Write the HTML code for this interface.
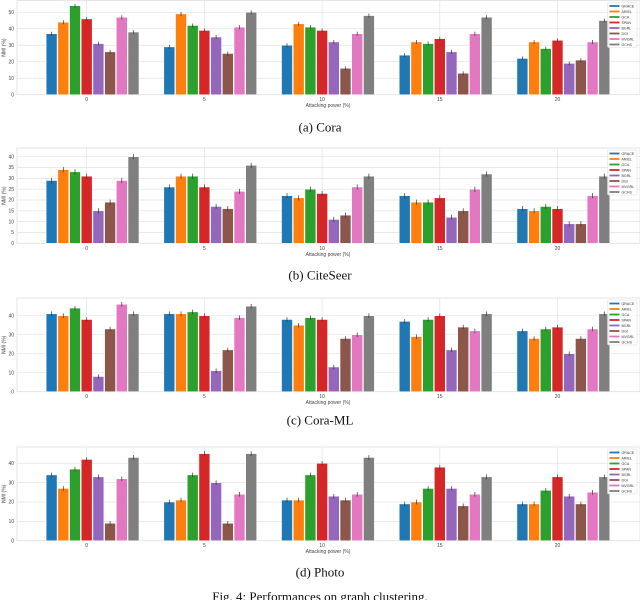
<!DOCTYPE html>
<html><head><meta charset="utf-8">
<style>
html,body{margin:0;padding:0;background:#fff;width:640px;height:600px;overflow:hidden}
svg{display:block}
</style></head>
<body>
<svg id="fig" width="640" height="600" viewBox="0 0 640 600" xmlns="http://www.w3.org/2000/svg"></svg>
<script>
const groups = ["0","5","10","15","20"];
const methods = ["GRACE","ARIEL","GCA","SPAN","BGRL","DGI","MVGRL","GCHS"];
const colors = ["#1f77b4","#ff7f0e","#2ca02c","#d62728","#9467bd","#8c564b","#e377c2","#7f7f7f"];
const coraValues = [[37,44,54,46,31,26,47,38],[29,49,42,39,35,25,41,50],[30,43,41,39,32,16,37,48],[24,32,31,34,26,13,37,47],[22,32,28,33,19,21,32,45]];
const citeseerValues = [[29,34,33,31,15,19,29,40],[26,31,31,26,17,16,24,36],[22,21,25,23,11,13,26,31],[22,19,19,21,12,15,25,32],[16,15,17,16,9,9,22,31]];
const coramlValues = [[41,40,44,38,8,33,46,41],[41,41,42,40,11,22,39,45],[38,35,39,38,13,28,30,40],[37,29,38,40,22,34,32,41],[32,28,33,34,20,28,33,41]];
const photoValues = [[34,27,37,42,33,9,32,43],[20,21,34,45,30,9,24,45],[21,21,34,40,23,21,24,43],[19,20,27,38,27,18,24,33],[19,19,26,33,23,19,25,33]];
const coraTicks = [0,10,20,30,40,50];
const citeseerTicks = [0,5,10,15,20,25,30,35,40];
const coramlTicks = [0,10,20,30,40];
const photoTicks = [0,10,20,30,40];
const errBar = 1.2;

const NS = "http://www.w3.org/2000/svg";
const svg = document.getElementById('fig');
function mk(tag, attrs, parent){const e=document.createElementNS(NS,tag);for(const k in attrs)e.setAttribute(k,attrs[k]);(parent||svg).appendChild(e);return e;}

function panel(key, values, ticks, top, bottom, y0val, yTopVal, yTopPix, caption, capY){
  const g = mk('g',{});
  
  
  const left=17, right=640;
  const yScale = v => bottom - (v - y0val) * (bottom - yTopPix) / (yTopVal - y0val);
  const xTick = i => 86.7 + i*117.7;
  const pitch = 11.7, bw = 10.9;
  // grid
  ticks.forEach(t=>{
    const y=yScale(t);
    const l=mk('line',{x1:left,x2:right,y1:y,y2:y,stroke:'#e2e2e2','stroke-width':0.7},g);
    
    
    const tx=mk('text',{x:14,y:y+1.7,'font-size':5,'text-anchor':'end',fill:'#444','font-family':'Liberation Sans, sans-serif'},g);
    tx.textContent=t;
    
    
  });
  groups.forEach((lab,i)=>{
    const x=xTick(i);
    const l=mk('line',{x1:x,x2:x,y1:top,y2:bottom,stroke:'#e2e2e2','stroke-width':0.7},g);
    
    
    const tx=mk('text',{x:x,y:bottom+6.5,'font-size':5,'text-anchor':'middle',fill:'#444','font-family':'Liberation Sans, sans-serif'},g);
    tx.textContent=lab;
    
    
  });
  const fr=mk('rect',{x:left,y:top,width:right-left,height:bottom-top,fill:'none',stroke:'#e0e0e0','stroke-width':0.8},g);
  
  
  // bars
  values.forEach((row,i)=>{
    row.forEach((v,j)=>{
      const cx=xTick(i)+(j-3)*pitch;
      const y=yScale(v);
      const r=mk('rect',{x:cx-bw/2,y:y,width:bw,height:bottom-y,fill:colors[j],stroke:'#fff','stroke-width':0.5},g);
      
      
      const e=mk('line',{x1:cx,x2:cx,y1:yScale(v+errBar),y2:yScale(v-errBar),stroke:'#333','stroke-width':0.7},g);
      
      
    });
  });
  // axis labels
  const yl=mk('text',{x:0,y:0,'font-size':5,'text-anchor':'middle',fill:'#444','font-family':'Liberation Sans, sans-serif',transform:`translate(5.5,${(top+bottom)/2}) rotate(-90)`},g);
  yl.textContent='NMI (%)';
  
  
  const xl=mk('text',{x:328,y:bottom+12.5,'font-size':5,'text-anchor':'middle',fill:'#444','font-family':'Liberation Sans, sans-serif'},g);
  xl.textContent='Attacking power (%)';
  
  
  // legend
  const lg=mk('g',{},g);
  
  
  mk('rect',{x:607.5,y:top+2,width:29.5,height:45,fill:'#fff','fill-opacity':0.85,stroke:'#ddd','stroke-width':0.5,rx:1},lg);
  methods.forEach((m,j)=>{
    const y=top+5.5+j*5.5;
    const s=mk('line',{x1:609.5,x2:619.5,y1:y,y2:y,stroke:colors[j],'stroke-width':1.8},lg);
    
    
    const t=mk('text',{x:621.5,y:y+1.3,'font-size':3.6,fill:'#333','font-family':'Liberation Sans, sans-serif'},lg);
    t.textContent=m;
    
    
  });
  const c=mk('text',{x:320,y:capY+4.5,'font-size':13,'text-anchor':'middle',fill:'#111','font-family':'Liberation Serif, serif'});
  c.textContent=caption;
  
  
}
panel('cora', coraValues, coraTicks, 0.5, 94.7, 0, 50, 12.3, '(a) Cora', 127);
panel('citeseer', citeseerValues, citeseerTicks, 148, 243.3, 0, 40, 156.7, '(b) CiteSeer', 275);
panel('cora-ml', coramlValues, coramlTicks, 298, 391.7, 0, 40, 315.7, '(c) Cora-ML', 420);
panel('photo', photoValues, photoTicks, 447, 540.7, 0, 40, 463.3, '(d) Photo', 572);
const fc=mk('text',{x:320,y:601,'font-size':13,'text-anchor':'middle',fill:'#111','font-family':'Liberation Serif, serif'});
fc.textContent='Fig. 4: Performances on graph clustering.';


</script>
</body></html>
